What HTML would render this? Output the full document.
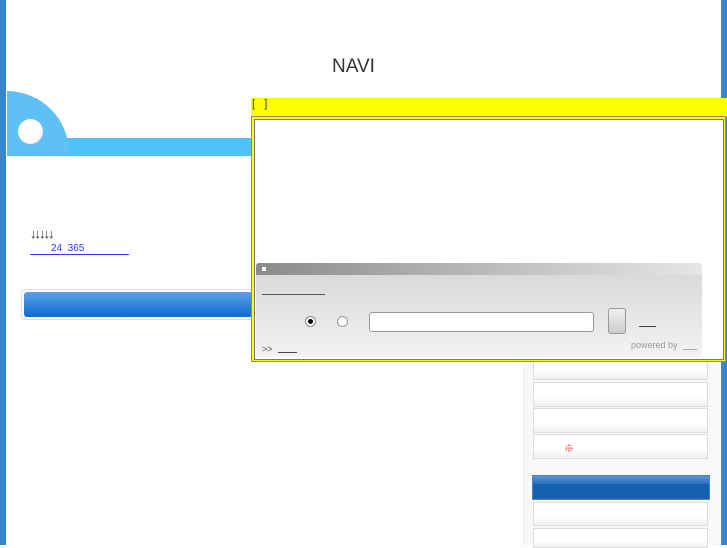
<!DOCTYPE html>
<html><head><meta charset="utf-8"><style>
*{margin:0;padding:0;box-sizing:border-box}
body{width:727px;height:545px;position:relative;overflow:hidden;background:#fff;font-family:"Liberation Sans","Noto Sans CJK JP",sans-serif}
.a{position:absolute}
.sb{position:absolute;left:533px;width:175px;background:linear-gradient(#fff 60%,#f0f0f0);border:1px solid #ddd}
</style></head><body>
<div class="a" style="left:0;top:0;width:6px;height:545px;background:#3a84c8"></div>
<div class="a" style="left:721px;top:0;width:6px;height:545px;background:#3a84c8"></div>
<div class="a" style="left:332px;top:56px;font-size:19px;color:#333">NAVI</div>
<div class="a" style="left:7px;top:138px;width:250px;height:18px;background:#4dc3fa"></div>
<div class="a" style="left:7px;top:91px;width:62px;height:62px;background:#5fc0f4;border-top-right-radius:62px"></div>
<div class="a" style="left:18px;top:119px;width:25px;height:25px;border-radius:50%;background:radial-gradient(circle at 40% 35%,#fff 55%,#ddd)"></div>
<div class="a" style="left:30px;top:226px;font-size:13px;color:#222;letter-spacing:-2px">↓↓↓↓↓</div>
<div class="a" style="left:30px;top:243px;width:99px;height:12px;border-bottom:1px solid #33f;font-size:10px;color:#33f;padding-left:21px">24&nbsp; 365</div>
<div class="a" style="left:21px;top:289px;width:240px;height:31px;border:1px solid #ddd;border-radius:4px;padding:2px"><div style="height:25px;border-radius:3px;background:linear-gradient(#5aa0e6,#0f6bd0)"></div></div>
<div class="a" style="left:523px;top:355px;width:197px;height:190px;background:#f8f8f6;border-left:1px solid #eee"></div>
<div class="sb" style="top:356px;height:24px"></div>
<div class="sb" style="top:382px;height:25px"></div>
<div class="sb" style="top:408px;height:25px"></div>
<div class="sb" style="top:434px;height:25px"><span style="position:absolute;left:30px;top:5px;color:#e22;font-size:10px">※</span></div>
<div class="a" style="left:532px;top:475px;width:178px;height:25px;background:linear-gradient(#5a93d4 0,#2a6fc0 35%,#1660b0 36%,#1660b0);border:1px solid #4a84c8"></div>
<div class="sb" style="top:502px;height:24px"></div>
<div class="sb" style="top:528px;height:20px"></div>
<div class="a" style="left:251px;top:98px;width:476px;height:19px;background:#ff0;font-size:11px;color:#336;padding-left:1px">[&nbsp;&nbsp; ]</div>
<div class="a" style="left:251px;top:116px;width:475px;height:246px;background:#ff0;border:1px solid #888"></div>
<div class="a" style="left:254px;top:119px;width:470px;height:241px;background:#fff;border:1px solid #777"></div>
<div class="a" style="left:256px;top:263px;width:446px;height:94px;background:linear-gradient(#d6d6d6,#f2f2f2);border-radius:3px"></div>
<div class="a" style="left:256px;top:263px;width:446px;height:12px;background:linear-gradient(90deg,#8a8a8a,#b0b0b0 40%,#e6e6e6);border-radius:3px 3px 0 0"></div>
<div class="a" style="left:262px;top:267px;width:4px;height:4px;background:#fff"></div>
<div class="a" style="left:262px;top:294px;width:63px;height:1px;background:#555"></div>
<div class="a" style="left:305px;top:316px;width:11px;height:11px;border-radius:50%;border:1px solid #888;background:#fff"><div style="margin:2px;width:5px;height:5px;border-radius:50%;background:#000"></div></div>
<div class="a" style="left:337px;top:316px;width:11px;height:11px;border-radius:50%;border:1px solid #999;background:#fff"></div>
<div class="a" style="left:369px;top:312px;width:225px;height:20px;border:1px solid #999;border-radius:3px;background:#fff"></div>
<div class="a" style="left:608px;top:308px;width:18px;height:26px;border:1px solid #999;border-radius:3px;background:linear-gradient(#f0f0f0,#ccc)"></div>
<div class="a" style="left:639px;top:326px;width:17px;height:1px;background:#444"></div>
<div class="a" style="left:262px;top:344px;font-size:9px;color:#555">&gt;&gt;</div>
<div class="a" style="left:278px;top:352px;width:19px;height:1px;background:#444"></div>
<div class="a" style="left:631px;top:340px;font-size:9px;color:#999">powered by</div>
<div class="a" style="left:683px;top:349px;width:14px;height:1px;background:#aaa"></div>
</body></html>
